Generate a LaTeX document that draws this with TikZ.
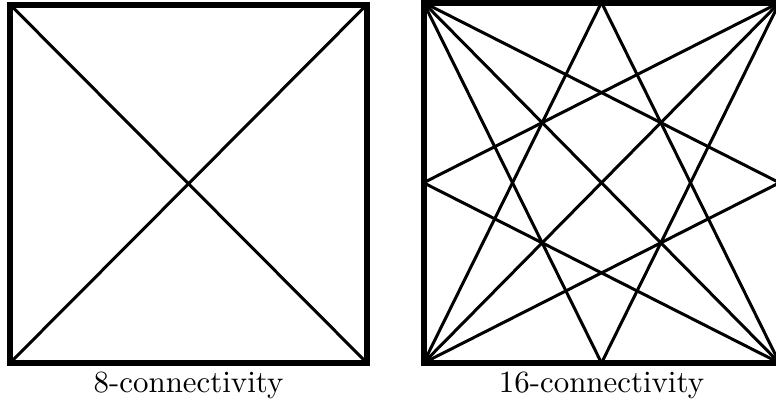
\documentclass[tikz,border=0pt]{standalone}
\usetikzlibrary{calc}

\begin{document}
\begin{tikzpicture}[x=1bp,y=-1bp,
      frame/.style={line width=6bp},
      link/.style={line width=3bp},
      caption/.style={font=\fontsize{10}{12}\selectfont,scale=3.1,anchor=base}]
    \useasboundingbox (0,0) rectangle (776,405);
    % 8-connectivity
    \coordinate (a1) at (10,4.5);
    \coordinate (a2) at (367,4.5);
    \coordinate (a3) at (367,363);
    \coordinate (a4) at (10,363);
    \draw[link] (a1)--(a3) (a2)--(a4);
    \draw[frame] (a1) rectangle (a3);
    \node[caption] (cap8) at ($(a4)!.5!(a3)+(0,29)$) {8-connectivity};
    % 16-connectivity
    \coordinate (b1) at (423.5,2.5);
    \coordinate (b2) at (779.5,2.5);
    \coordinate (b3) at (779.5,363);
    \coordinate (b4) at (423.5,363);
    \coordinate (bt) at ($(b1)!.5!(b2)$);
    \coordinate (br) at ($(b2)!.5!(b3)$);
    \coordinate (bb) at ($(b4)!.5!(b3)$);
    \coordinate (bl) at ($(b1)!.5!(b4)$);
    \foreach \from/\to in {b1/b3,b2/b4,b1/bb,b1/br,b2/bb,b2/bl,b4/bt,b4/br,b3/bt,b3/bl}
      \draw[link] (\from)--(\to);
    \draw[frame] (b1) rectangle (b3);
    \node[caption] (cap16) at ($(bb)+(0,29)$) {16-connectivity};
  \end{tikzpicture}
\end{document}
